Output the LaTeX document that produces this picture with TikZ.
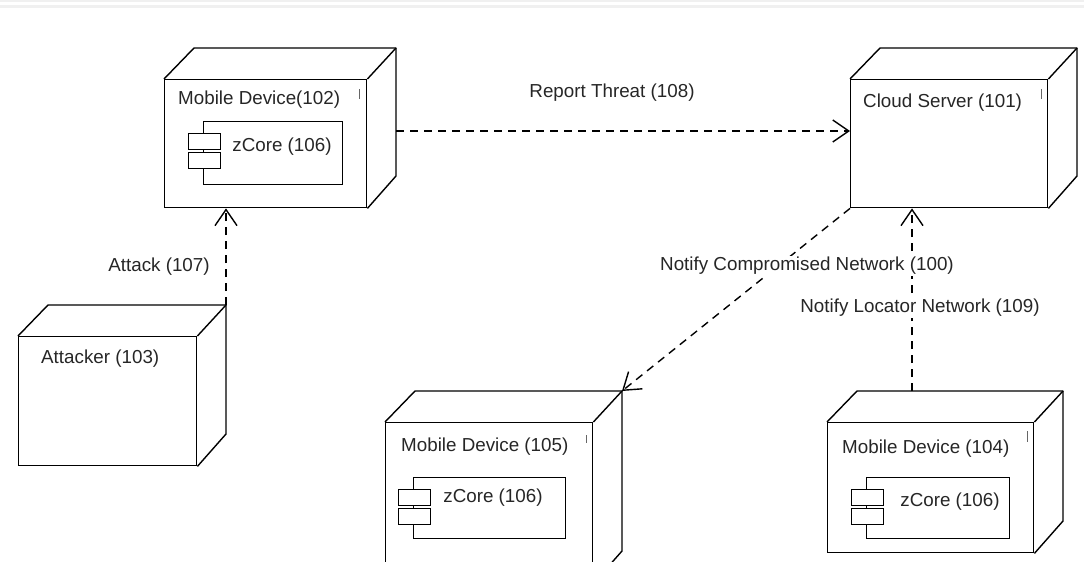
\documentclass[tikz,border=0pt]{standalone}
\usepackage{fontspec}
\setmainfont{Liberation Sans}
\usetikzlibrary{arrows.meta,calc}
\tikzset{
  face/.style={draw, line width=1.4pt, inner sep=0pt, anchor=north west},
  edge/.style={line width=1.4pt, line join=round},
  lbl/.style={font=\fontsize{18.8}{22}\selectfont, text=black!85, inner sep=1pt},
  conn/.style={line width=1.4pt, dash pattern=on 8pt off 6pt,
    -{Straight Barb[length=16pt,width=22pt,line width=1.4pt]}},
  tick/.style={line width=0.8pt, black!60},
}
\newcommand\cubeat[5]{%
  \node[face, minimum width=#4pt, minimum height=#5pt] (#1) at (#2,#3) {};
  \draw[edge] (#1.north west) -- ++(30,-31) coordinate (#1-btl) -- ++(#4,0) coordinate (#1-btr)
     -- ++(0,#5) coordinate (#1-bbr) -- (#1.south east);
  \draw[edge] (#1.north east) -- (#1-btr);
}
\newcommand\compat[5]{%
  \node[face, minimum width=#4pt, minimum height=#5pt] (#1) at (#2,#3) {};
  \node[face, fill=white, minimum width=32pt, minimum height=16pt] (#1-t1) at ($(#1.north west)+(-15,12)$) {};
  \node[face, fill=white, minimum width=32pt, minimum height=16pt] (#1-t2) at ($(#1.north west)+(-15,31)$) {};
}
\begin{document}
\begin{tikzpicture}[x=1pt,y=-1pt]
\useasboundingbox (0,0) rectangle (1084,562);
\clip (0,0) rectangle (1084,562);
\fill[black!6] (0,0) rectangle (1084,2);
\fill[black!6] (0,5) rectangle (1084,8);

% cubes
\cubeat{m102}{164}{79}{202}{128}
\cubeat{cloud}{850}{79}{197}{128}
\cubeat{att}{18}{336}{178}{129}
\cubeat{m105}{385}{422}{207}{160}
\cubeat{m104}{827}{422}{206}{130}

% components
\compat{c102}{203}{121}{139}{63}
\compat{c105}{413}{477}{152}{61}
\compat{c104}{866}{477}{143}{61}

% titles
\node[lbl, anchor=west] (t102) at (177,100) {Mobile Device(102)};
\node[lbl, anchor=west] (t101) at (862,103) {Cloud Server (101)};
\node[lbl, anchor=west] (t103) at (40,359) {Attacker (103)};
\node[lbl, anchor=west] (t105) at (400,447) {Mobile Device (105)};
\node[lbl, anchor=west] (t104) at (841,449) {Mobile Device (104)};
\node[lbl] (z102) at (282,147) {zCore (106)};
\node[lbl] (z105) at (493,498) {zCore (106)};
\node[lbl] (z104) at (950,502) {zCore (106)};

% small ticks
\draw[tick] (359,89) -- (359,99);
\draw[tick] (1041,89) -- (1041,99);
\draw[tick] (586,435) -- (586,443);
\draw[tick] (1027,431) -- (1027,442);

% connectors
\coordinate (rtstart) at (396,131);
\draw[conn] (rtstart) -- (cloud.west |- rtstart);
\draw[conn] (att-btr) -- (att-btr |- m102.south);
\draw[conn] (cloud.south west) -- (m105-btr);
\coordinate (locstart) at (912,391);
\draw[conn] (locstart) -- (locstart |- cloud.south);

% connector labels
\node[lbl] (l108) at (612,93) {Report Threat (108)};
\node[lbl] (l107) at (159,267) {Attack (107)};
\node[lbl, fill=white] (l100) at (807,266) {Notify Compromised Network (100)};
\node[lbl, fill=white] (l109) at (920,308) {Notify Locator Network (109)};
\end{tikzpicture}
\end{document}
